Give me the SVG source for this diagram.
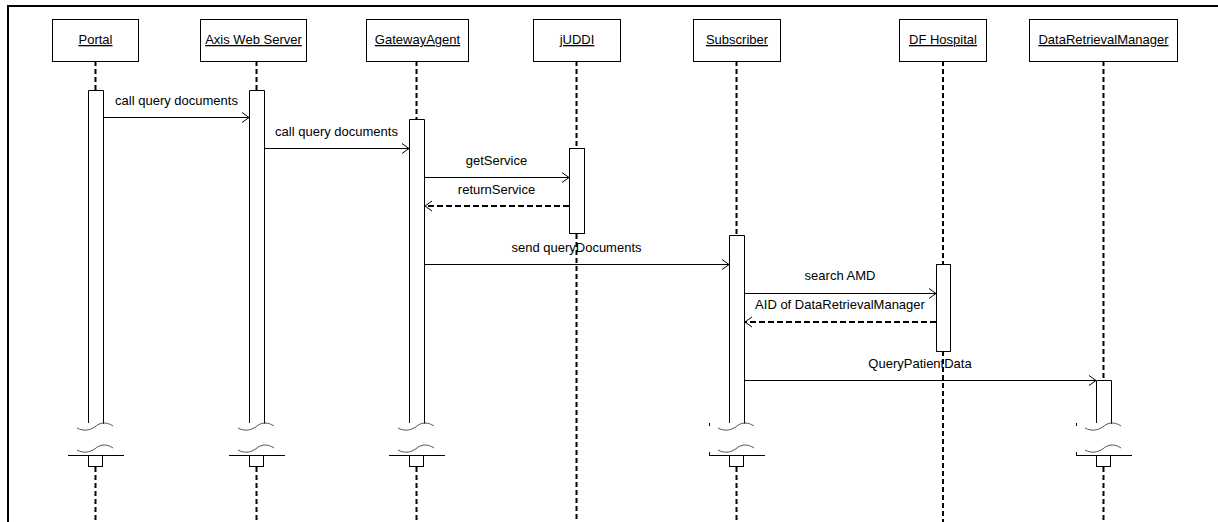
<svg xmlns="http://www.w3.org/2000/svg" xmlns:xlink="http://www.w3.org/1999/xlink" width="1218" height="522" viewBox="0 0 1218 522">
  <style>
    text { font-family: "Liberation Sans", Arial, sans-serif; font-size: 13px; fill: #000; }
    .name { text-anchor: middle; text-decoration: underline; }
    .lbl { text-anchor: middle; }
    .head { fill: #fff; stroke: #000; stroke-width: 1; }
    .life { stroke: #000; stroke-width: 2; stroke-dasharray: 5 3; fill: none; }
    .bar { fill: #fff; stroke: #000; stroke-width: 1; }
    .msg { stroke: #000; stroke-width: 1; fill: none; marker-end: url(#open); }
    .ret { stroke: #000; stroke-width: 2; stroke-dasharray: 6 3; fill: none; marker-end: url(#open); }
    .wave { stroke: #555; stroke-width: 1; fill: none; }
    .frame { stroke: #000; stroke-width: 2; fill: none; }
  </style>
  <defs>
    <marker id="open" markerUnits="userSpaceOnUse" markerWidth="12" markerHeight="12" refX="8" refY="5.5" orient="auto" overflow="visible">
      <path d="M1,0.5 L8,5.5 L1,10.5" fill="none" stroke="#000" stroke-width="1" stroke-dasharray="none"/>
    </marker>
    <!-- break in an activation bar, drawn relative to the bar's left edge -->
    <g id="brk">
      <rect x="0" y="380" width="0" height="0" fill="none"/>
      <path class="wave" d="M-11,428 C-4,432 3,430 8,426 S19,422 25,426"/>
      <path class="wave" d="M-11,450 C-4,454 3,452 8,448 S19,444 25,448"/>
      <path d="M-20,455.5 H36" stroke="#000" stroke-width="1"/>
      <rect x="0.5" y="455.5" width="14" height="11" fill="#fff" stroke="#000" stroke-width="1"/>
      <path class="life" d="M7.5,467 V522"/>
    </g>
  </defs>

  <!-- frame -->
  <path class="frame" d="M8,522 V6 H1218"/>

  <!-- lifelines -->
  <g id="lifelines">
    <path class="life" d="M95.5,61 V90"/>
    <path class="life" d="M256.5,61 V90"/>
    <path class="life" d="M416.5,61 V119"/>
    <path class="life" d="M576.5,61 V148 M576.5,234 V522"/>
    <path class="life" d="M736.5,61 V235"/>
    <path class="life" d="M943,61 V264 M943,351 V522"/>
    <path class="life" d="M1103.5,61 V380"/>
  </g>

  <g id="portal">
    <rect class="head" x="52.5" y="19.5" width="86" height="42"/>
    <text class="name" x="95.5" y="44">Portal</text>
    <rect x="88.5" y="90.5" width="15" height="333" fill="#fff"/>
    <path class="bar" d="M88.5,423 V90.5 H103.5 V424" fill="none"/>
    <use xlink:href="#brk" transform="translate(88,0)"/>
  </g>

  <g id="axis-web-server">
    <rect class="head" x="200.5" y="19.5" width="106" height="42"/>
    <text class="name" x="253.5" y="44">Axis Web Server</text>
    <rect x="249.5" y="90.5" width="15" height="333" fill="#fff"/>
    <path class="bar" d="M249.5,423 V90.5 H264.5 V424" fill="none"/>
    <use xlink:href="#brk" transform="translate(249,0)"/>
  </g>

  <g id="gateway-agent">
    <rect class="head" x="366.5" y="19.5" width="102" height="42"/>
    <text class="name" x="417.5" y="44">GatewayAgent</text>
    <rect x="409.5" y="119.5" width="15" height="304" fill="#fff"/>
    <path class="bar" d="M409.5,423 V119.5 H424.5 V424" fill="none"/>
    <use xlink:href="#brk" transform="translate(409,0)"/>
  </g>

  <g id="juddi">
    <rect class="head" x="533.5" y="19.5" width="87" height="42"/>
    <text class="name" x="577" y="44">jUDDI</text>
    <rect class="bar" x="569.5" y="148.5" width="15" height="85"/>
  </g>

  <g id="subscriber">
    <rect class="head" x="693.5" y="19.5" width="87" height="42"/>
    <text class="name" x="737" y="44">Subscriber</text>
    <rect x="729.5" y="235.5" width="15" height="188" fill="#fff"/>
    <path class="bar" d="M729.5,423 V235.5 H744.5 V424" fill="none"/>
    <use xlink:href="#brk" transform="translate(729,0)"/>
    <path d="M709.5,423 V426 M709.5,452 V455" stroke="#000" stroke-width="1"/>
  </g>

  <g id="df-hospital">
    <rect class="head" x="899.5" y="19.5" width="87" height="42"/>
    <text class="name" x="943" y="44">DF Hospital</text>
    <rect class="bar" x="936.5" y="264.5" width="14" height="87"/>
  </g>

  <g id="data-retrieval-manager">
    <rect class="head" x="1029.5" y="19.5" width="148" height="42"/>
    <text class="name" x="1103.5" y="44">DataRetrievalManager</text>
    <rect x="1096.5" y="380.5" width="15" height="43" fill="#fff"/>
    <path class="bar" d="M1096.5,423 V380.5 H1111.5 V424" fill="none"/>
    <use xlink:href="#brk" transform="translate(1096,0)"/>
    <path d="M1076.5,423 V426 M1076.5,452 V455" stroke="#000" stroke-width="1"/>
  </g>

  <!-- messages -->
  <g id="connectors">
    <path class="msg" d="M104,117.5 H249"/>
    <text class="lbl" x="176.5" y="105">call query documents</text>

    <path class="msg" d="M265,148.5 H409"/>
    <text class="lbl" x="336.5" y="136">call query documents</text>

    <path class="msg" d="M425,177.5 H569"/>
    <text class="lbl" x="496.5" y="165">getService</text>

    <path class="ret" d="M569,206 H425"/>
    <text class="lbl" x="496.5" y="194">returnService</text>

    <path class="msg" d="M425,264.5 H729"/>
    <text class="lbl" x="576.5" y="252">send queryDocuments</text>

    <path class="msg" d="M745,293.5 H936"/>
    <text class="lbl" x="840" y="280">search AMD</text>

    <path class="ret" d="M936,322 H745"/>
    <text class="lbl" x="840" y="309">AID of DataRetrievalManager</text>

    <path class="msg" d="M745,380.5 H1096"/>
    <text class="lbl" x="920" y="368">QueryPatientData</text>
  </g>
</svg>
